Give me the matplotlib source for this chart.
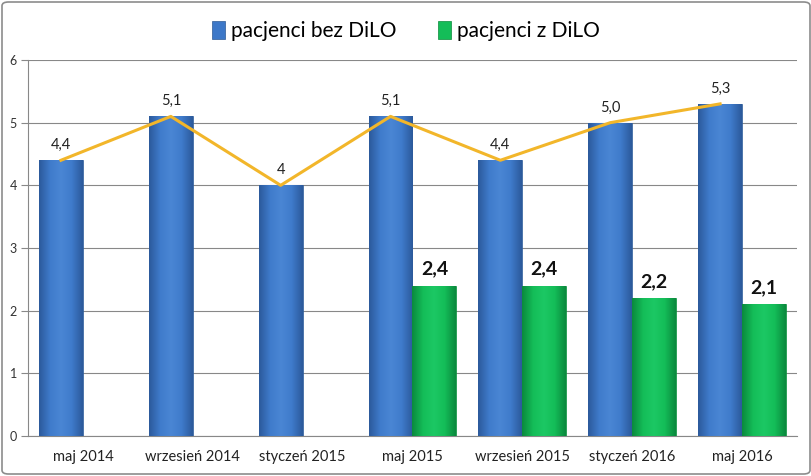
import matplotlib
matplotlib.use("Agg")
import matplotlib.pyplot as plt
from matplotlib.patches import FancyBboxPatch
from matplotlib.colors import LinearSegmentedColormap
import numpy as np

categories = ["maj 2014", "wrzesień 2014", "styczeń 2015", "maj 2015",
              "wrzesień 2015", "styczeń 2016", "maj 2016"]
bez_dilo = [4.4, 5.1, 4.0, 5.1, 4.4, 5.0, 5.3]
bez_labels = ["4,4", "5,1", "4", "5,1", "4,4", "5,0", "5,3"]
z_dilo = [None, None, None, 2.4, 2.4, 2.2, 2.1]
z_labels = ["", "", "", "2,4", "2,4", "2,2", "2,1"]
yticks = [0, 1, 2, 3, 4, 5, 6]

plt.rcParams['font.family'] = ['Lato', 'DejaVu Sans']

fig = plt.figure(figsize=(8.12, 4.76), dpi=100)
ax = fig.add_axes([28/812, 40/476, 769/812, 376/476])

x = np.arange(len(categories))
w = 0.4
blue = "#3d78c8"
green = "#14bd58"
line_c = "#f2b62a"

blue_cmap = LinearSegmentedColormap.from_list("b", ["#2c5a9c", "#3f7bcb", "#4a86d4", "#3f7bcb", "#2c5a9c"])
green_cmap = LinearSegmentedColormap.from_list("g", ["#0b8a3e", "#14bd58", "#1cc864", "#14bd58", "#0b8a3e"])

bb = ax.bar(x - w/2, bez_dilo, w, color=blue, edgecolor="#2d5a94", linewidth=0.5, zorder=3,
            label="pacjenci bez DiLO")
zx = [xi + w/2 for xi, v in zip(x, z_dilo) if v is not None]
zv = [v for v in z_dilo if v is not None]
gb = ax.bar(zx, zv, w, color=green, edgecolor="#0a8a3a", linewidth=0.5, zorder=3,
            label="pacjenci z DiLO")

grad = np.linspace(0, 1, 64).reshape(1, -1)
for bars, cmap in ((bb, blue_cmap), (gb, green_cmap)):
    for p in bars:
        x0, y0 = p.get_x(), p.get_y()
        im = ax.imshow(grad, cmap=cmap, aspect="auto", zorder=3.1,
                       extent=[x0, x0 + p.get_width(), y0, y0 + p.get_height()])
        im.set_clip_path(p)

ax.plot(x - w/2, bez_dilo, color=line_c, linewidth=2.2, zorder=4)

for xi, v, lab in zip(x, bez_dilo, bez_labels):
    ax.text(xi - w/2, v + 0.13, lab, ha="center", va="bottom", fontsize=10.5, color="#222222", zorder=5)
for xi, v, lab in zip(x, z_dilo, z_labels):
    if v is not None:
        ax.text(xi + w/2, v + 0.13, lab, ha="center", va="bottom", fontsize=14,
                fontweight="bold", color="#111111", zorder=5)

ax.set_xlim(-0.5, len(categories) - 0.5)
ax.set_ylim(0, 6)
ax.set_yticks(yticks)
ax.set_yticklabels([str(t) for t in yticks], fontsize=9, color="#333333")
ax.set_xticks(x)
ax.set_xticklabels(categories, fontsize=10.5, color="#222222")
ax.tick_params(axis="x", length=0, pad=10)
ax.tick_params(axis="y", length=5, color="#888888", pad=3)
ax.yaxis.grid(True, color="#888888", linewidth=0.8, zorder=0)
for s in ["top", "right"]:
    ax.spines[s].set_visible(False)
ax.spines["left"].set_color("#888888")
ax.spines["bottom"].set_color("#888888")

leg = fig.legend(loc="upper center", bbox_to_anchor=(0.5, 1.0 - 2/476), ncol=2,
                 frameon=False, fontsize=15, handlelength=0.6, handleheight=1.0,
                 columnspacing=2.0, handletextpad=0.3)

border = FancyBboxPatch((2/812, 2/476), 808/812, 472/476, boxstyle="round,pad=0,rounding_size=0.008",
                        transform=fig.transFigure, fill=False, edgecolor="#8c8c8c", linewidth=1.2)
fig.patches.append(border)

fig.savefig("out.png", dpi=100)
